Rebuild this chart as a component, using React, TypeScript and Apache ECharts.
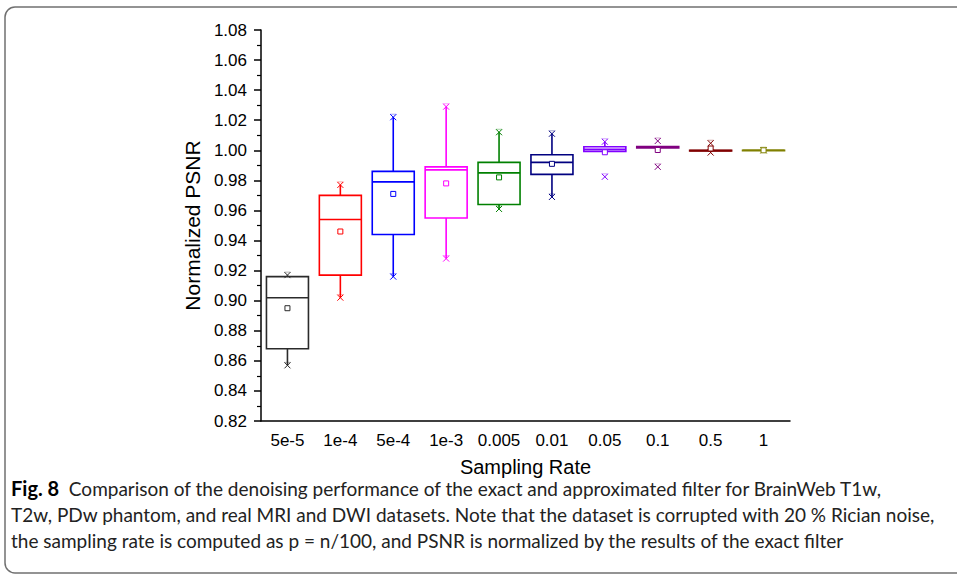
import React, { useEffect, useRef } from "react";
import * as echarts from "echarts";

const categories = ["5e-5", "1e-4", "5e-4", "1e-3", "0.005", "0.01", "0.05", "0.1", "0.5", "1"];
const whiskerLow = [0.857, 0.902, 0.916, 0.928, 0.961, 0.969, 0.9993, 1.0015, 0.9995, 1.0];
const q1 = [0.868, 0.917, 0.944, 0.955, 0.964, 0.984, 0.9993, 1.0015, 0.9995, 1.0];
const median = [0.902, 0.954, 0.979, 0.987, 0.985, 0.992, 1.0006, 1.002, 0.9998, 1.0];
const q3 = [0.916, 0.970, 0.986, 0.989, 0.992, 0.997, 1.0024, 1.0025, 1.0, 1.0];
const whiskerHigh = [0.916, 0.977, 1.022, 1.029, 1.012, 1.011, 1.0057, 1.0025, 1.0, 1.0];
const means = [0.895, 0.946, 0.971, 0.978, 0.982, 0.991, 0.9987, 1.0002, 1.0012, 1.0];
const markLow = [0.857, 0.902, 0.916, 0.928, 0.961, 0.969, 0.9824, 0.989, 0.9985, 1.0];
const markHigh = [0.917, 0.977, 1.022, 1.029, 1.012, 1.011, 1.0057, 1.0062, 1.0047, 1.0];
const boxColors = ["#2b2b2b", "#ff0000", "#0000ff", "#ff00ff", "#008000", "#000080", "#8000ff", "#800080", "#800000", "#808000"];

const yTicks = { min: 0.82, max: 1.08, interval: 0.02 };

const captionLines = [
  "Comparison of the denoising performance of the exact and approximated filter for BrainWeb T1w,",
  "T2w, PDw phantom, and real MRI and DWI datasets. Note that the dataset is corrupted with 20 % Rician noise,",
  "the sampling rate is computed as p = n/100, and PSNR is normalized by the results of the exact filter",
];

export default function App() {
  const ref = useRef<HTMLDivElement>(null);
  useEffect(() => {
    if (!ref.current) return;
    const chart = echarts.init(ref.current, null, { renderer: "svg" });
    const data = categories.map((_, i) => [
      i, whiskerLow[i], q1[i], median[i], q3[i], whiskerHigh[i], means[i], markLow[i], markHigh[i],
    ]);
    const capFont = "Lato, 'Open Sans', sans-serif";
    const capSize = 19;
    const option: any = {
      animation: false,
      backgroundColor: "#ffffff",
      grid: { left: 261, top: 30, width: 529, height: 391, containLabel: false },
      xAxis: {
        type: "category",
        data: categories,
        boundaryGap: true,
        name: "Sampling Rate",
        nameLocation: "middle",
        nameGap: 36,
        nameTextStyle: { fontFamily: "'Liberation Sans', Arial, sans-serif", fontSize: 20, color: "#000" },
        axisLine: { lineStyle: { color: "#000", width: 1.5 } },
        axisTick: { alignWithLabel: true, interval: 0, length: 6, lineStyle: { color: "#000", width: 1.5 } },
        axisLabel: { interval: 0, fontFamily: "'Liberation Sans', Arial, sans-serif", fontSize: 17, color: "#000", margin: 11 },
        splitLine: { show: false },
      },
      yAxis: {
        type: "value",
        min: yTicks.min,
        max: yTicks.max,
        interval: yTicks.interval,
        name: "Normalized PSNR",
        nameLocation: "middle",
        nameGap: 57,
        nameRotate: 90,
        nameTextStyle: { fontFamily: "'Liberation Sans', Arial, sans-serif", fontSize: 21, color: "#000" },
        axisLine: { show: true, lineStyle: { color: "#000", width: 1.5 } },
        axisTick: { show: true, length: 7, lineStyle: { color: "#000", width: 1.5 } },
        minorTick: { show: true, splitNumber: 2, length: 4, lineStyle: { color: "#000", width: 1.2 } },
        axisLabel: {
          fontFamily: "'Liberation Sans', Arial, sans-serif",
          fontSize: 17,
          color: "#000",
          margin: 14,
          formatter: (v: number) => v.toFixed(2),
        },
        splitLine: { show: false },
      },
      series: [
        {
          type: "custom",
          data,
          encode: { x: 0, y: [1, 2, 3, 4, 5, 6, 7, 8] },
          renderItem: (params: any, api: any) => {
            const i = params.dataIndex;
            const color = boxColors[i];
            const xi = api.value(0);
            const cx = api.coord([xi, 0])[0];
            const yOf = (k: number) => api.coord([xi, api.value(k)])[1];
            const half = 21;
            const yWL = yOf(1), yQ1 = yOf(2), yMed = yOf(3), yQ3 = yOf(4), yWH = yOf(5);
            const yMean = yOf(6), yML = yOf(7), yMH = yOf(8);
            const lw = 1.6;
            const children: any[] = [];
            if (yWH < yQ3) children.push({ type: "line", shape: { x1: cx, y1: yQ3, x2: cx, y2: yWH }, style: { stroke: color, lineWidth: lw } });
            if (yWL > yQ1) children.push({ type: "line", shape: { x1: cx, y1: yQ1, x2: cx, y2: yWL }, style: { stroke: color, lineWidth: lw } });
            children.push({
              type: "rect",
              shape: { x: cx - half, y: yQ3, width: half * 2, height: Math.max(yQ1 - yQ3, 0.5) },
              style: { fill: "none", stroke: color, lineWidth: lw },
            });
            children.push({ type: "line", shape: { x1: cx - half, y1: yMed, x2: cx + half, y2: yMed }, style: { stroke: color, lineWidth: lw } });
            const xm = (y: number) => [
              { type: "line", shape: { x1: cx - 3, y1: y - 3, x2: cx + 3, y2: y + 3 }, style: { stroke: color, lineWidth: 1 } },
              { type: "line", shape: { x1: cx - 3, y1: y + 3, x2: cx + 3, y2: y - 3 }, style: { stroke: color, lineWidth: 1 } },
              { type: "line", shape: { x1: cx - 3, y1: y - 3, x2: cx + 3, y2: y - 3 }, style: { stroke: color, lineWidth: 0.6, opacity: 0.6 } },
            ];
            children.push(...xm(yML), ...xm(yMH));
            children.push({
              type: "rect",
              shape: { x: cx - 2.5, y: yMean - 2.5, width: 5, height: 5 },
              style: { fill: "#fff", stroke: color, lineWidth: 1 },
            });
            return { type: "group", children };
          },
        },
      ],
      graphic: [
        {
          type: "rect",
          shape: { x: 5, y: 7, width: 1000, height: 566, r: 10 },
          style: { fill: "none", stroke: "#707070", lineWidth: 1.5 },
          silent: true,
        },
        {
          type: "text",
          x: 11,
          y: 488,
          style: {
            text: "{b|Fig. 8}  " + captionLines[0],
            rich: { b: { fontWeight: "bold", fontFamily: capFont, fontSize: capSize + 1, fill: "#000" } },
            fontFamily: capFont,
            fontSize: capSize,
            fill: "#222",
            verticalAlign: "middle",
          },
        },
        {
          type: "text",
          x: 11,
          y: 514,
          style: { text: captionLines[1], fontFamily: capFont, fontSize: capSize, fill: "#222", verticalAlign: "middle" },
        },
        {
          type: "text",
          x: 11,
          y: 540,
          style: { text: captionLines[2], fontFamily: capFont, fontSize: capSize, fill: "#222", verticalAlign: "middle" },
        },
      ],
    };
    chart.setOption(option);
    return () => chart.dispose();
  }, []);
  return <div ref={ref} style={{ position: "absolute", left: 0, top: 0, width: 957, height: 575 }} />;
}
